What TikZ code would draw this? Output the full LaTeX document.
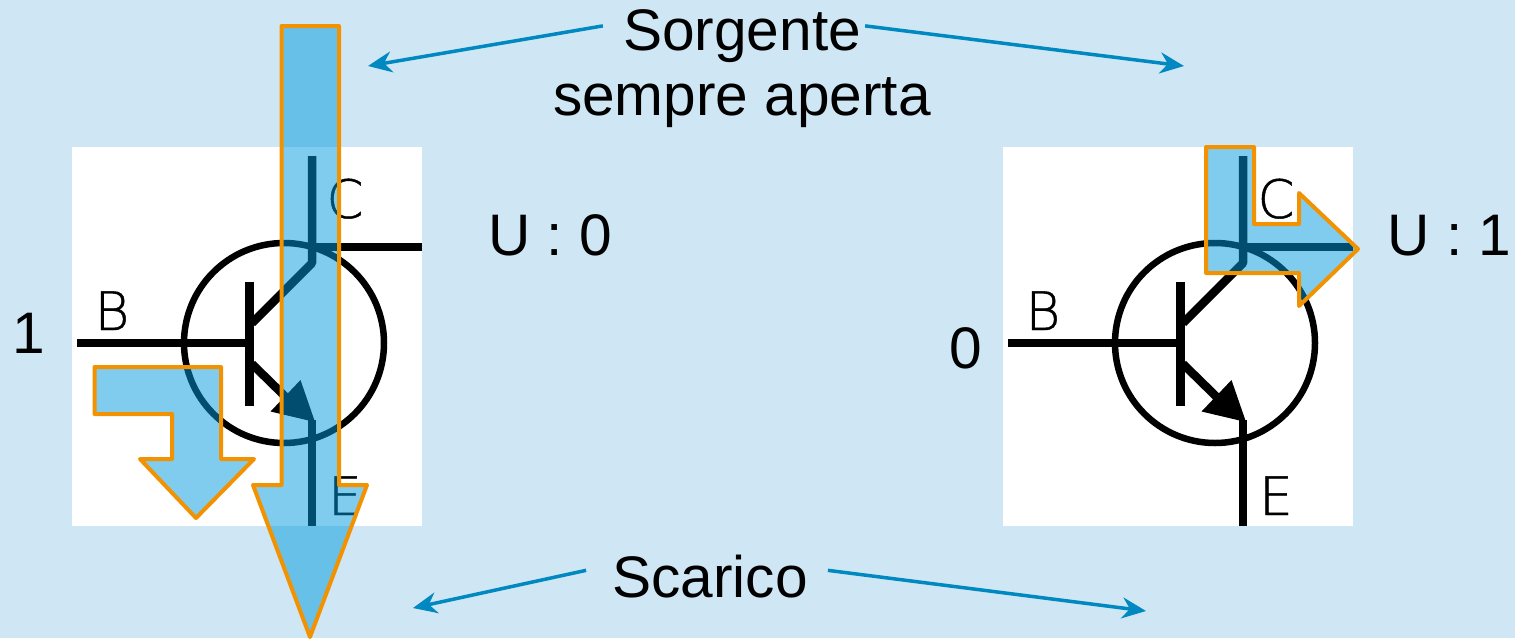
\documentclass[tikz,border=0pt]{standalone}
\usepackage{fontspec}
\setmainfont{Liberation Sans}
\newfontfamily\pinfont[FakeBold=0.8]{DejaVu Sans ExtraLight}
\usetikzlibrary{arrows.meta}
\definecolor{sfondo}{RGB}{207,230,244}
\definecolor{corrente}{RGB}{0,155,222}
\definecolor{bordo}{RGB}{243,146,0}
\definecolor{freccia}{RGB}{0,136,192}
\tikzset{
  scritta/.style={anchor=base,inner sep=0pt,font=\fontsize{58.6}{58}\selectfont},
  pin/.style={anchor=base,inner sep=0pt,font=\fontsize{53}{53}\pinfont},
  filo/.style={line width=8.5pt,line join=round},
  corpo/.style={line width=6.5pt},
  flusso/.style={draw=bordo,fill=corrente,fill opacity=.5,line width=4pt,line join=round},
  puntatore/.style={-{Stealth[length=24pt,width=21pt]},draw=freccia,line width=3.5pt}
}

\begin{document}
\begin{tikzpicture}[x=1pt,y=-1pt]
	\fill [sfondo] (0,0) rectangle (1515,638);
	\useasboundingbox (0,0) rectangle (1515,638);

	% i due transistor
	\foreach \xo/\nm in {0/sx,931/dx} {
	\begin{scope}[xshift=\xo pt]
		\fill [white] (72,147) rectangle (422,526);
		\draw [corpo] (284,343) circle (100);
		\draw [filo] (77,343) -- (249,343);
		\draw [line width=9pt] (249,282) -- (249,406);
		\draw [filo] (312,156) -- (312,263) -- (252,323);
		\draw [filo] (312,247) -- (422,247);
		\draw [filo] (252,364) -- (298,409);
		\fill (315,422) -- (300.5,380) -- (270.5,411.5) -- cycle;
		\draw [filo] (312,420) -- (312,526);
		\node [pin] (b\nm) at (112,330) {B};
		\node [pin] (c\nm) at (345,218) {C};
		\node [pin] (e\nm) at (345,515) {E};
	\end{scope}
	}

	% correnti
	\draw [flusso] (281.5,26) -- (339,26) -- (339,485) -- (367,485) -- (310,637) -- (253,485) -- (281.5,485) -- cycle;
	\draw [flusso] (94.5,367) -- (221,367) -- (221,459) -- (254,459) -- (196,518) -- (140,459) -- (172,459) -- (172,414) -- (94.5,414) -- cycle;
	\draw [flusso] (1206,147) -- (1254,147) -- (1254,224) -- (1299,224) -- (1299,193) -- (1358,249) -- (1299,306) -- (1299,273) -- (1206,273) -- cycle;

	% scritte
	\node [scritta] (sorgente) at (742,50) {Sorgente};
	\node [scritta] (aperta) at (742,115) {sempre aperta};
	\node [scritta] (scarico) at (710,597) {Scarico};
	\node [scritta] (usx) at (550,255) {U : 0};
	\node [scritta] (udx) at (1449.5,255) {U : 1};
	\node [scritta] (insx) at (29,353) {1};
	\node [scritta] (indx) at (966,368) {0};

	\coordinate (puntaA) at (368,66);
	\coordinate (puntaB) at (1184,66);
	\coordinate (puntaC) at (413,608);
	\coordinate (puntaD) at (1146,611);

	\draw [puntatore] ([xshift=-20pt,yshift=-17pt]sorgente.north west) -- (puntaA);
	\draw [puntatore] ([xshift=4pt,yshift=-17pt]sorgente.north east) -- (puntaB);
	\draw [puntatore] ([xshift=-26pt,yshift=-16pt]scarico.north west) -- (puntaC);
	\draw [puntatore] ([xshift=20pt,yshift=-16pt]scarico.north east) -- (puntaD);
\end{tikzpicture}
\end{document}
